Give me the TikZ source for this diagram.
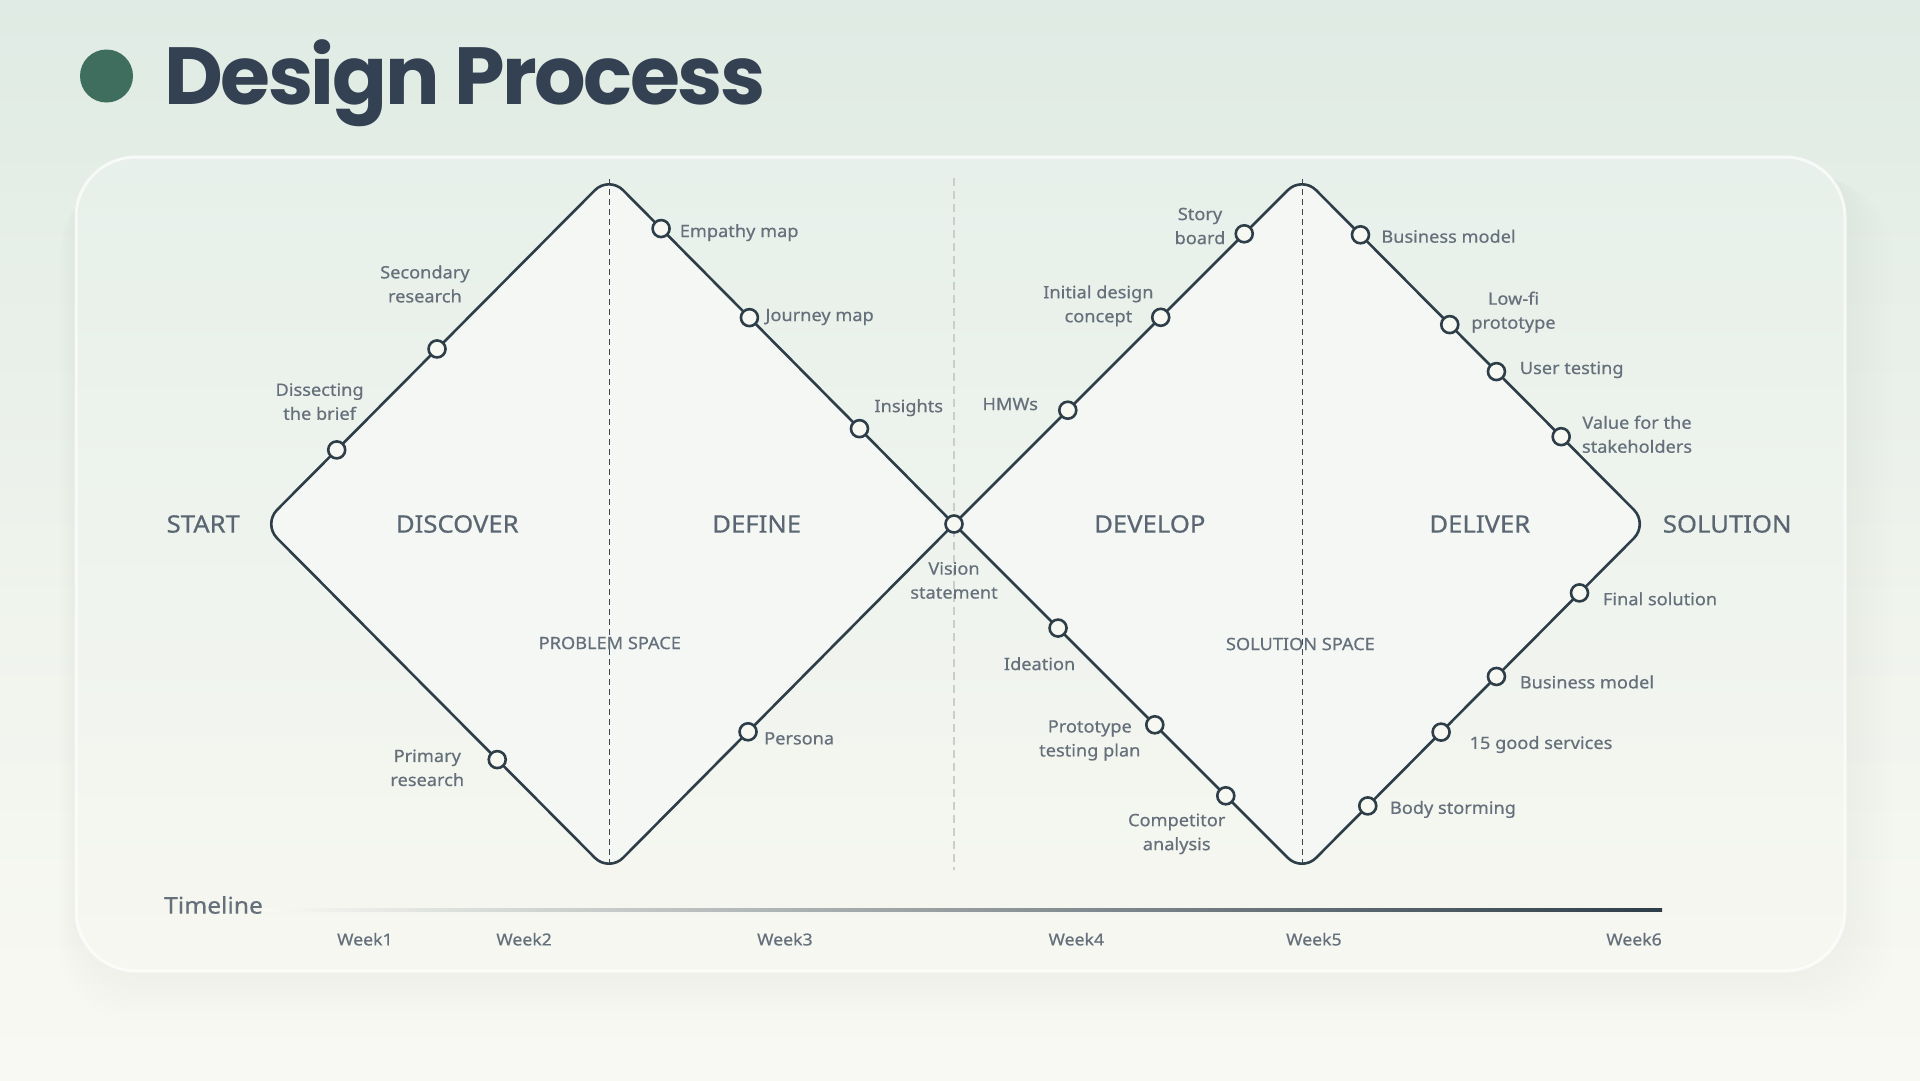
\documentclass[tikz,border=0pt]{standalone}
\usepackage{fontspec}
\setmainfont{Noto Sans}[FakeStretch=1.07, FakeBold=0.5]
\newfontfamily\titlefont{Poppins}[LetterSpace=-3]
\usetikzlibrary{calc}
\definecolor{bgtop}{HTML}{DFEBE4}
\definecolor{bgmid}{HTML}{EEF3EC}
\definecolor{bgbot}{HTML}{F9F9F3}
\definecolor{cardtop}{HTML}{E7F0EA}
\definecolor{cardbot}{HTML}{F7F7F1}
\definecolor{diafill}{HTML}{F5F7F5}
\definecolor{linec}{HTML}{2E3E49}
\definecolor{dotfill}{HTML}{F8F8F2}
\definecolor{labc}{HTML}{65707B}
\definecolor{phc}{HTML}{5A6671}
\definecolor{titlec}{HTML}{334152}
\definecolor{dotgreen}{HTML}{3F6E5F}
\definecolor{midgray}{HTML}{C9CDCE}
\definecolor{dashc}{HTML}{3B4852}
\definecolor{tlmid}{HTML}{A9B0B3}
\tikzset{
  ring/.style={circle, draw=linec, fill=dotfill, line width=2.6pt, minimum size=17pt, inner sep=0pt},
  lbl/.style={text=labc, font=\fontsize{17}{24}\selectfont, inner sep=0pt, align=center},
  lblw/.style={lbl, anchor=west},
  phase/.style={text=phc, font=\fontsize{24}{28}\selectfont, inner sep=0pt},
  space/.style={text=labc, font=\fontsize{17}{20}\selectfont, inner sep=0pt},
  week/.style={text=labc, font=\fontsize{16.5}{20}\selectfont, inner sep=0pt},
}
\begin{document}
\begin{tikzpicture}[x=1pt,y=-1pt]
\useasboundingbox (0,0) rectangle (1920,1080);
% background
\shade[top color=bgtop, bottom color=bgbot, middle color=bgmid] (0,0) rectangle (1920,1080);
% card shadow
\foreach \i in {1,...,8}{
  \fill[black!60!green, opacity=0.0045, rounded corners=70pt] (76-\i*2,157+\i*3) rectangle (1845+\i*6,971+\i*6);
}
% card
\shade[top color=cardtop, bottom color=cardbot, rounded corners=60pt] (76,157) rectangle (1845,971);
\draw[white, opacity=0.7, line width=3pt, rounded corners=60pt] (76,157) rectangle (1845,971);

% title
\fill[dotgreen] (106.5,76) circle (26.5pt);
\node[anchor=base west, inner sep=0pt, text=titlec, font=\titlefont\bfseries\fontsize{81}{90}\selectfont] (title) at (164,104) {Design Process};

% diamond vertices
\coordinate (L) at (263,524);
\coordinate (T1) at (609,176);
\coordinate (B1) at (609,872);
\coordinate (X) at (954,524);
\coordinate (T2) at (1302,176);
\coordinate (B2) at (1302,872);
\coordinate (R) at (1648,524);

% fills
\fill[diafill, rounded corners=20pt] (X) -- (T1) -- (L) -- (B1) -- cycle;
\fill[diafill, rounded corners=20pt] (X) -- (T2) -- (R) -- (B2) -- cycle;

% dashed guides
\coordinate (d1t) at (609,179); \coordinate (d1b) at (609,866);
\coordinate (d2t) at (954,178); \coordinate (d2b) at (954,870);
\coordinate (d3t) at (1302,179); \coordinate (d3b) at (1302,866);
\draw[dashc, line width=1pt, dash pattern=on 6pt off 4pt] (d1t) -- (d1b);
\draw[midgray, line width=1.2pt, dash pattern=on 8pt off 5pt] (d2t) -- (d2b);
\draw[dashc, line width=1pt, dash pattern=on 6pt off 4pt] (d3t) -- (d3b);

% outline
\draw[linec, line width=2.6pt, rounded corners=20pt, line join=round]
  (X) -- (T1) -- (L) -- (B1) -- (X) -- (T2) -- (R) -- (B2) -- cycle;

% phase labels
\node[phase] (start) at (203.3,524) {START};
\node[phase] (discover) at (457.3,524) {DISCOVER};
\node[phase] (define) at (756.7,524) {DEFINE};
\node[phase] (develop) at (1149.8,524) {DEVELOP};
\node[phase] (deliver) at (1479.8,524) {DELIVER};
\node[phase] (solution) at (1727.2,524) {SOLUTION};
\node[space] (ps) at (609.8,643) {PROBLEM SPACE};
\node[space] (ss) at (1300.4,644) {SOLUTION SPACE};

% milestone rings
\node[ring] (n1) at ($(L)!0.213!(T1)$) {};
\node[ring] (n2) at ($(L)!0.503!(T1)$) {};
\node[ring] (n3) at ($(T1)!0.151!(X)$) {};
\node[ring] (n4) at ($(T1)!0.407!(X)$) {};
\node[ring] (n5) at ($(T1)!0.726!(X)$) {};
\node[ring] (n6) at (X) {};
\node[ring] (n7) at ($(B1)!0.403!(X)$) {};
\node[ring] (n8) at ($(L)!0.677!(B1)$) {};
\node[ring] (m1) at ($(X)!0.327!(T2)$) {};
\node[ring] (m2) at ($(X)!0.594!(T2)$) {};
\node[ring] (m3) at ($(X)!0.834!(T2)$) {};
\node[ring] (m4) at ($(T2)!0.169!(R)$) {};
\node[ring] (m5) at ($(T2)!0.427!(R)$) {};
\node[ring] (m6) at ($(T2)!0.562!(R)$) {};
\node[ring] (m7) at ($(T2)!0.749!(R)$) {};
\node[ring] (m8) at ($(R)!0.198!(B2)$) {};
\node[ring] (m9) at ($(R)!0.438!(B2)$) {};
\node[ring] (m10) at ($(R)!0.598!(B2)$) {};
\node[ring] (m11) at ($(R)!0.810!(B2)$) {};
\node[ring] (m12) at ($(X)!0.299!(B2)$) {};
\node[ring] (m13) at ($(X)!0.577!(B2)$) {};
\node[ring] (m14) at ($(X)!0.781!(B2)$) {};

% milestone labels
\node[lbl] (t1) at (319.6,401.6) {Dissecting\\the brief};
\node[lbl] (t2) at (424.9,284) {Secondary\\research};
\node[lblw] (t3) at (679.6,232.6) {Empathy map};
\node[lblw] (t4) at (765.3,317) {Journey map};
\node[lblw] (t5) at (874.3,407.7) {Insights};
\node[lbl] (t6) at (954,580.4) {Vision\\statement};
\node[lblw] (t7) at (764,738.4) {Persona};
\node[lbl] (t8) at (427.3,767.8) {Primary\\research};
\node[lbl] (u1) at (1010.2,404.1) {HMWs};
\node[lbl] (u2) at (1098.4,305.8) {Initial design\\concept};
\node[lbl] (u3) at (1200,226) {Story\\board};
\node[lblw] (u4) at (1381.2,236.3) {Business model};
\node[lbl] (u5) at (1513.5,312.2) {Low-fi\\prototype};
\node[lblw] (u6) at (1519.6,369.8) {User testing};
\node[lbl] (u7) at (1637,434.3) {Value for the\\stakeholders};
\node[lblw] (u8) at (1602.8,598.8) {Final solution};
\node[lblw] (u9) at (1519.6,682) {Business model};
\node[lblw] (u10) at (1469.4,744.5) {15 good services};
\node[lblw] (u11) at (1389.8,809.4) {Body storming};
\node[lbl] (u12) at (1039.6,663.7) {Ideation};
\node[lbl] (u13) at (1089.8,740.4) {Prototype\\testing plan};
\node[lbl] (u14) at (1176.7,833.9) {Competitor\\analysis};

% timeline
\node[anchor=west, text=labc, font=\fontsize{23}{26}\selectfont, inner sep=0pt] (tl) at (164,905) {Timeline};
\shade[left color=bgbot, middle color=tlmid, right color=linec] (263,908.8) rectangle (1662,911);
\node[week] (w1) at (364.9,939.2) {Week1};
\node[week] (w2) at (524.1,939.2) {Week2};
\node[week] (w3) at (784.9,939.2) {Week3};
\node[week] (w4) at (1076.3,939.2) {Week4};
\node[week] (w5) at (1313.9,939.2) {Week5};
\node[week, anchor=east] (w6) at (1662,939.2) {Week6};
\end{tikzpicture}
\end{document}
